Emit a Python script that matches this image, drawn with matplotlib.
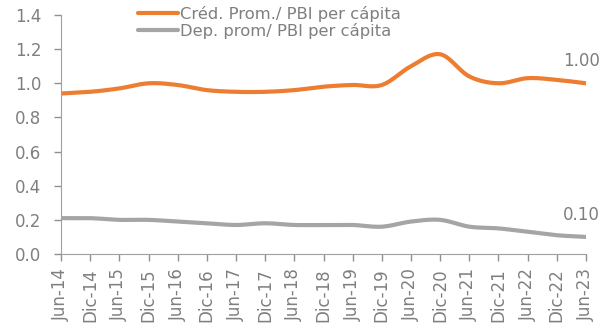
import matplotlib
matplotlib.use("Agg")
import matplotlib.pyplot as plt
import numpy as np

fechas = ["Jun-14", "Dic-14", "Jun-15", "Dic-15", "Jun-16", "Dic-16", "Jun-17",
          "Dic-17", "Jun-18", "Dic-18", "Jun-19", "Dic-19", "Jun-20", "Dic-20",
          "Jun-21", "Dic-21", "Jun-22", "Dic-22", "Jun-23"]
credito = [0.94, 0.95, 0.97, 1.00, 0.99, 0.96, 0.95, 0.95, 0.96, 0.98,
           0.99, 0.99, 1.10, 1.17, 1.04, 1.00, 1.03, 1.02, 1.00]
deposito = [0.21, 0.21, 0.20, 0.20, 0.19, 0.18, 0.17, 0.18, 0.17, 0.17,
            0.17, 0.16, 0.19, 0.20, 0.16, 0.15, 0.13, 0.11, 0.10]

NARANJA = "#ED7D31"
GRIS = "#A5A5A5"
TEXTO = "#7F7F7F"


def suavizar(x, y, n=20):
    # Catmull-Rom, como las lineas suavizadas de Excel
    x = np.asarray(x, float)
    y = np.asarray(y, float)
    px = np.concatenate([[2 * x[0] - x[1]], x, [2 * x[-1] - x[-2]]])
    py = np.concatenate([[2 * y[0] - y[1]], y, [2 * y[-1] - y[-2]]])
    xs, ys = [], []
    t = np.linspace(0, 1, n, endpoint=False)
    for i in range(1, len(px) - 2):
        for p, out in ((px, xs), (py, ys)):
            p0, p1, p2, p3 = p[i - 1], p[i], p[i + 1], p[i + 2]
            out.extend(0.5 * ((2 * p1) + (-p0 + p2) * t
                              + (2 * p0 - 5 * p1 + 4 * p2 - p3) * t ** 2
                              + (-p0 + 3 * p1 - 3 * p2 + p3) * t ** 3))
    xs.append(x[-1])
    ys.append(y[-1])
    return np.array(xs), np.array(ys)


plt.rcParams["font.family"] = "DejaVu Sans"
fig = plt.figure(figsize=(6.01, 3.25), dpi=100)
ax = fig.add_axes([61 / 601, 1 - 254 / 325, (586 - 61) / 601, (254 - 15) / 325])

x = np.arange(len(fechas))
ax.plot(*suavizar(x, credito), color=NARANJA, lw=3, solid_capstyle="round",
        label="Créd. Prom./ PBI per cápita")
ax.plot(*suavizar(x, deposito), color=GRIS, lw=3, solid_capstyle="round",
        label="Dep. prom/ PBI per cápita")

# etiquetas del ultimo dato (offset en pixeles)
for serie in (credito, deposito):
    ax.annotate(f"{serie[-1]:.2f}", (x[-1], serie[-1]), xytext=(-23, 22),
                textcoords="offset pixels", color=TEXTO, fontsize=12,
                va="center", ha="left")

ax.set_xlim(0, len(fechas) - 1)
ax.set_ylim(0, 1.4)
ax.set_yticks(np.arange(0, 1.41, 0.2))
ax.yaxis.set_major_formatter(matplotlib.ticker.FormatStrFormatter("%.1f"))
ax.set_xticks(x)
ax.set_xticklabels(fechas, rotation=90)
ax.tick_params(colors="#909090", labelcolor=TEXTO, labelsize=12, length=5, width=1)
ax.tick_params(axis="y", pad=9)
ax.tick_params(axis="x", pad=5)

for s in ("top", "right"):
    ax.spines[s].set_visible(False)
for s in ("left", "bottom"):
    ax.spines[s].set_color("#A0A0A0")

leg = ax.legend(loc="upper left", bbox_to_anchor=(0.135, 1.065), frameon=False,
                fontsize=11.8, handlelength=2.4, handletextpad=0.15,
                labelspacing=0.05, borderaxespad=0)
for t in leg.get_texts():
    t.set_color(TEXTO)

fig.savefig("out.png", dpi=100)
